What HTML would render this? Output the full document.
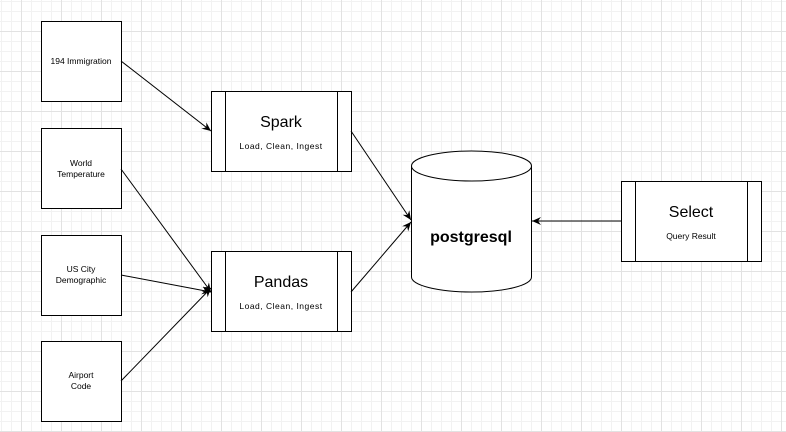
<!DOCTYPE html>
<html><head><style>
body{margin:0;width:786px;height:432px;overflow:hidden;background:#fff;
background-image:linear-gradient(#e2e2e2 1px,transparent 1px),linear-gradient(90deg,#e2e2e2 1px,transparent 1px),linear-gradient(#f2f2f2 1px,transparent 1px),linear-gradient(90deg,#f2f2f2 1px,transparent 1px);
background-size:40px 40px,40px 40px,10px 10px,10px 10px;background-position:0 31px,21px 0,0 1px,1px 0;}
svg{position:absolute;left:0;top:0;font-family:"Liberation Sans",Arial,sans-serif}
</style></head><body>
<svg width="786" height="432">
<defs><marker id="a" markerWidth="10" markerHeight="10" refX="9" refY="5" orient="auto" markerUnits="userSpaceOnUse"><path d="M0,1 L9,5 L0,9 L3,5z" fill="#000"/></marker></defs>
<g fill="#fff" stroke="#000" stroke-width="1">
<rect x="41.5" y="21.5" width="80" height="80"/>
<rect x="41.5" y="128.5" width="80" height="80"/>
<rect x="41.5" y="235.5" width="80" height="80"/>
<rect x="41.5" y="341.5" width="80" height="80"/>
<rect x="211.5" y="91.5" width="140" height="80"/><line x1="225.5" y1="91" x2="225.5" y2="171"/><line x1="337.5" y1="91" x2="337.5" y2="171"/>
<rect x="211.5" y="251.5" width="140" height="80"/><line x1="225.5" y1="251" x2="225.5" y2="331"/><line x1="337.5" y1="251" x2="337.5" y2="331"/>
<rect x="621.5" y="181.5" width="140" height="80"/><line x1="635.5" y1="181" x2="635.5" y2="261"/><line x1="747.5" y1="181" x2="747.5" y2="261"/>
<path d="M411.5,166 A60,15 0 0 1 531.5,166 L531.5,277 A60,15 0 0 1 411.5,277 Z"/>
<path d="M411.5,166 A60,15 0 0 0 531.5,166" fill="none"/>
</g>
<g stroke="#000" stroke-width="1" marker-end="url(#a)">
<line x1="121" y1="61" x2="211" y2="131"/>
<line x1="121" y1="169" x2="211" y2="292"/>
<line x1="121" y1="275" x2="211" y2="292"/>
<line x1="121" y1="381" x2="211" y2="288"/>
<line x1="351" y1="131" x2="411" y2="220"/>
<line x1="351" y1="292" x2="411" y2="222"/>
<line x1="621" y1="221" x2="532" y2="221"/>
</g>
<g font-size="8.5" text-anchor="middle">
<text x="81" y="64">194 Immigration</text>
<text x="81" y="166">World</text><text x="81" y="177">Temperature</text>
<text x="81" y="272">US City</text><text x="81" y="283">Demographic</text>
<text x="81" y="378">Airport</text><text x="81" y="389">Code</text>
<text x="281" y="149" letter-spacing="0.5">Load, Clean, Ingest</text>
<text x="281" y="309" letter-spacing="0.5">Load, Clean, Ingest</text>
<text x="691" y="239">Query Result</text>
</g>
<g font-size="16" text-anchor="middle">
<text x="281" y="127">Spark</text>
<text x="281" y="287">Pandas</text>
<text x="691" y="217">Select</text>
<text x="471" y="242" font-weight="bold">postgresql</text>
</g>
</svg>
</body></html>
